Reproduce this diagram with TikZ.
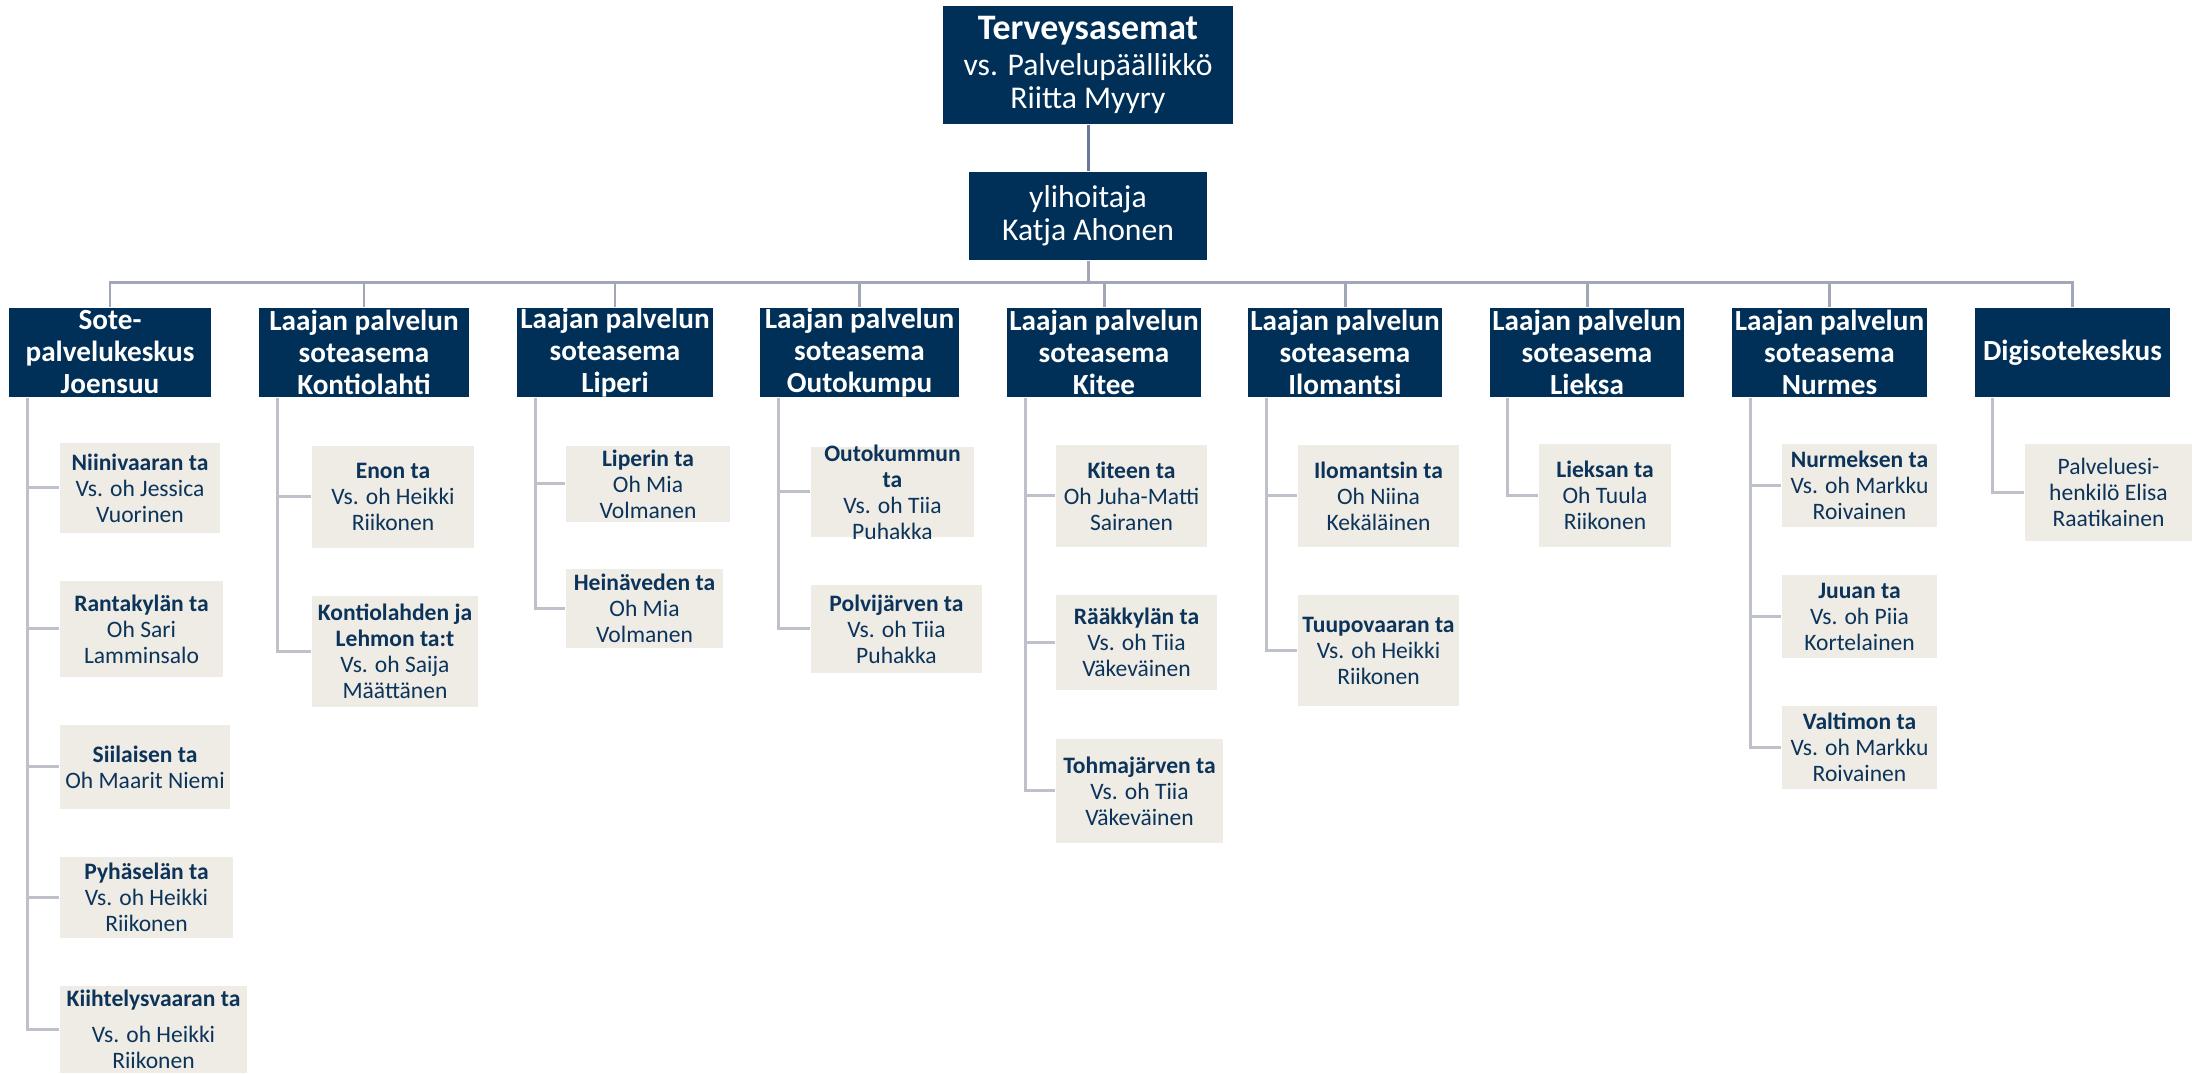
\documentclass[tikz,border=0pt]{standalone}
\usepackage{fontspec}
\setmainfont{Carlito}

\definecolor{navy}{RGB}{0,48,87}
\definecolor{sand}{RGB}{239,236,229}
\definecolor{subtext}{RGB}{12,52,90}
\definecolor{busgray}{RGB}{162,167,184}
\definecolor{stemgray}{RGB}{191,193,202}
\definecolor{linkblue}{RGB}{104,119,155}

\begin{document}
\begin{tikzpicture}
   [x={(0.01cm,0cm)},y={(0cm,-0.01cm)},
   every node/.style={inner sep=0pt,align=center},
   wh/.style 2 args={minimum width=#1*0.01cm,minimum height=#2*0.01cm},
   chief/.style={fill=navy,text=white,font=\fontsize{9}{9.4}\selectfont},
   unit/.style={fill=navy,text=white,inner ysep=-2pt,font=\fontsize{8.3}{9.1}\selectfont\bfseries},
   site/.style={fill=sand,text=subtext,inner ysep=-2pt,font=\fontsize{6.7}{7.4}\selectfont},
   bus/.style={busgray,line width=0.85pt},
   stem/.style={stemgray,line width=0.85pt},
   link/.style={linkblue,line width=0.85pt}]

   \useasboundingbox (0,0) rectangle (2205,1074);

   % johto
   \node[chief,wh={290}{118}] (chief) at (1088,65)
      {{\fontsize{10.2}{12}\selectfont\bfseries Terveysasemat}\\[1pt]vs. Palvelupäällikkö\\Riitta Myyry};
   \node[chief,wh={238}{88}] (ylih) at (1088,216) {ylihoitaja\\Katja Ahonen};
   \draw[link] (chief) -- (ylih);

   % soteasemat
   \node[unit,wh={202}{89}] (sote) at (110,352.5) {Sote-\\palvelukeskus\\Joensuu};
   \node[unit,wh={210}{89}] (kont) at (364,352.5) {Laajan palvelun\\soteasema\\Kontiolahti};
   \node[unit,wh={196}{89}] (lip)  at (615,352.5) {Laajan palvelun\\soteasema\\Liperi};
   \node[unit,wh={199}{89}] (outo) at (859.5,352.5) {Laajan palvelun\\soteasema\\Outokumpu};
   \node[unit,wh={194}{89}] (kit)  at (1104,352.5) {Laajan palvelun\\soteasema\\Kitee};
   \node[unit,wh={194}{89}] (ilo)  at (1345,352.5) {Laajan palvelun\\soteasema\\Ilomantsi};
   \node[unit,wh={194}{89}] (lie)  at (1587,352.5) {Laajan palvelun\\soteasema\\Lieksa};
   \node[unit,wh={195}{89}] (nur)  at (1829.5,352.5) {Laajan palvelun\\soteasema\\Nurmes};
   \node[unit,wh={195}{89}] (digi) at (2072.5,352.5) {Digisotekeskus};

   \coordinate (bus) at (1088,283);
   \draw[bus] (ylih.south) -- (bus);
   \foreach \u in {sote,kont,lip,outo,kit,ilo,lie,nur,digi}
      \draw[bus] (bus) -| (\u.north);

   % Joensuu
   \node[site,wh={160}{90}] (niini) at (140,488) {\textbf{Niinivaaran ta}\\Vs. oh Jessica\\Vuorinen};
   \node[site,wh={163}{96}] (ranta) at (141.5,629) {\textbf{Rantakylän ta}\\Oh Sari\\Lamminsalo};
   \node[site,wh={170}{84}] (siil)  at (145,767) {\textbf{Siilaisen ta}\\Oh Maarit Niemi};
   \node[site,wh={173}{81}] (pyha)  at (146.5,897.5) {\textbf{Pyhäselän ta}\\Vs. oh Heikki\\Riikonen};
   \node[site,wh={187}{87}] (kiih)  at (153.5,1029.5) {\textbf{Kiihtelysvaaran ta}\\[3pt]Vs. oh Heikki\\Riikonen};
   \foreach \c in {niini,ranta,siil,pyha,kiih}
      \draw[stem] ([xshift=0.19cm]sote.south west) |- (\c.west);

   % Kontiolahti
   \node[site,wh={162}{102}] (enon)  at (393,497) {\textbf{Enon ta}\\Vs. oh Heikki\\Riikonen};
   \node[site,wh={166}{111}] (kontl) at (395,651.5) {\textbf{Kontiolahden ja}\\\textbf{Lehmon ta:t}\\Vs. oh Saija\\Määttänen};
   \foreach \c in {enon,kontl}
      \draw[stem] ([xshift=0.19cm]kont.south west) |- (\c.west);

   % Liperi
   \node[site,wh={164}{76}] (liperin) at (648,484) {\textbf{Liperin ta}\\Oh Mia\\Volmanen};
   \node[site,wh={157}{79}] (heina)   at (644.5,608.5) {\textbf{Heinäveden ta}\\Oh Mia\\Volmanen};
   \foreach \c in {liperin,heina}
      \draw[stem] ([xshift=0.19cm]lip.south west) |- (\c.west);

   % Outokumpu
   \node[site,wh={163}{90}] (outok) at (892.5,492) {\textbf{Outokummun}\\\textbf{ta}\\Vs. oh Tiia\\Puhakka};
   \node[site,wh={171}{88}] (polvi) at (896.5,629) {\textbf{Polvijärven ta}\\Vs. oh Tiia\\Puhakka};
   \foreach \c in {outok,polvi}
      \draw[stem] ([xshift=0.19cm]outo.south west) |- (\c.west);

   % Kitee
   \node[site,wh={151}{102}] (kiteen) at (1131.5,496) {\textbf{Kiteen ta}\\Oh Juha-Matti\\Sairanen};
   \node[site,wh={161}{95}]  (raakk)  at (1136.5,642.5) {\textbf{Rääkkylän ta}\\Vs. oh Tiia\\Väkeväinen};
   \node[site,wh={167}{104}] (tohma)  at (1139.5,791) {\textbf{Tohmajärven ta}\\Vs. oh Tiia\\Väkeväinen};
   \foreach \c in {kiteen,raakk,tohma}
      \draw[stem] ([xshift=0.19cm]kit.south west) |- (\c.west);

   % Ilomantsi
   \node[site,wh={161}{102}] (ilom)  at (1378.5,496) {\textbf{Ilomantsin ta}\\Oh Niina\\Kekäläinen};
   \node[site,wh={161}{111}] (tuupo) at (1378.5,650.5) {\textbf{Tuupovaaran ta}\\Vs. oh Heikki\\Riikonen};
   \foreach \c in {ilom,tuupo}
      \draw[stem] ([xshift=0.19cm]ilo.south west) |- (\c.west);

   % Lieksa
   \node[site,wh={132}{103}] (lieksan) at (1605,495.5) {\textbf{Lieksan ta}\\Oh Tuula\\Riikonen};
   \draw[stem] ([xshift=0.18cm]lie.south west) |- (lieksan.west);

   % Nurmes
   \node[site,wh={155}{83}] (nurm)  at (1859.5,485.5) {\textbf{Nurmeksen ta}\\Vs. oh Markku\\Roivainen};
   \node[site,wh={155}{83}] (juuan) at (1859.5,616.5) {\textbf{Juuan ta}\\Vs. oh Piia\\Kortelainen};
   \node[site,wh={155}{83}] (valt)  at (1859.5,747.5) {\textbf{Valtimon ta}\\Vs. oh Markku\\Roivainen};
   \foreach \c in {nurm,juuan,valt}
      \draw[stem] ([xshift=0.19cm]nur.south west) |- (\c.west);

   % Digisote
   \node[site,wh={167}{97}] (palv) at (2108.5,492.5) {Palveluesi-\\henkilö Elisa\\Raatikainen};
   \draw[stem] ([xshift=0.18cm]digi.south west) |- (palv.west);
\end{tikzpicture}
\end{document}
